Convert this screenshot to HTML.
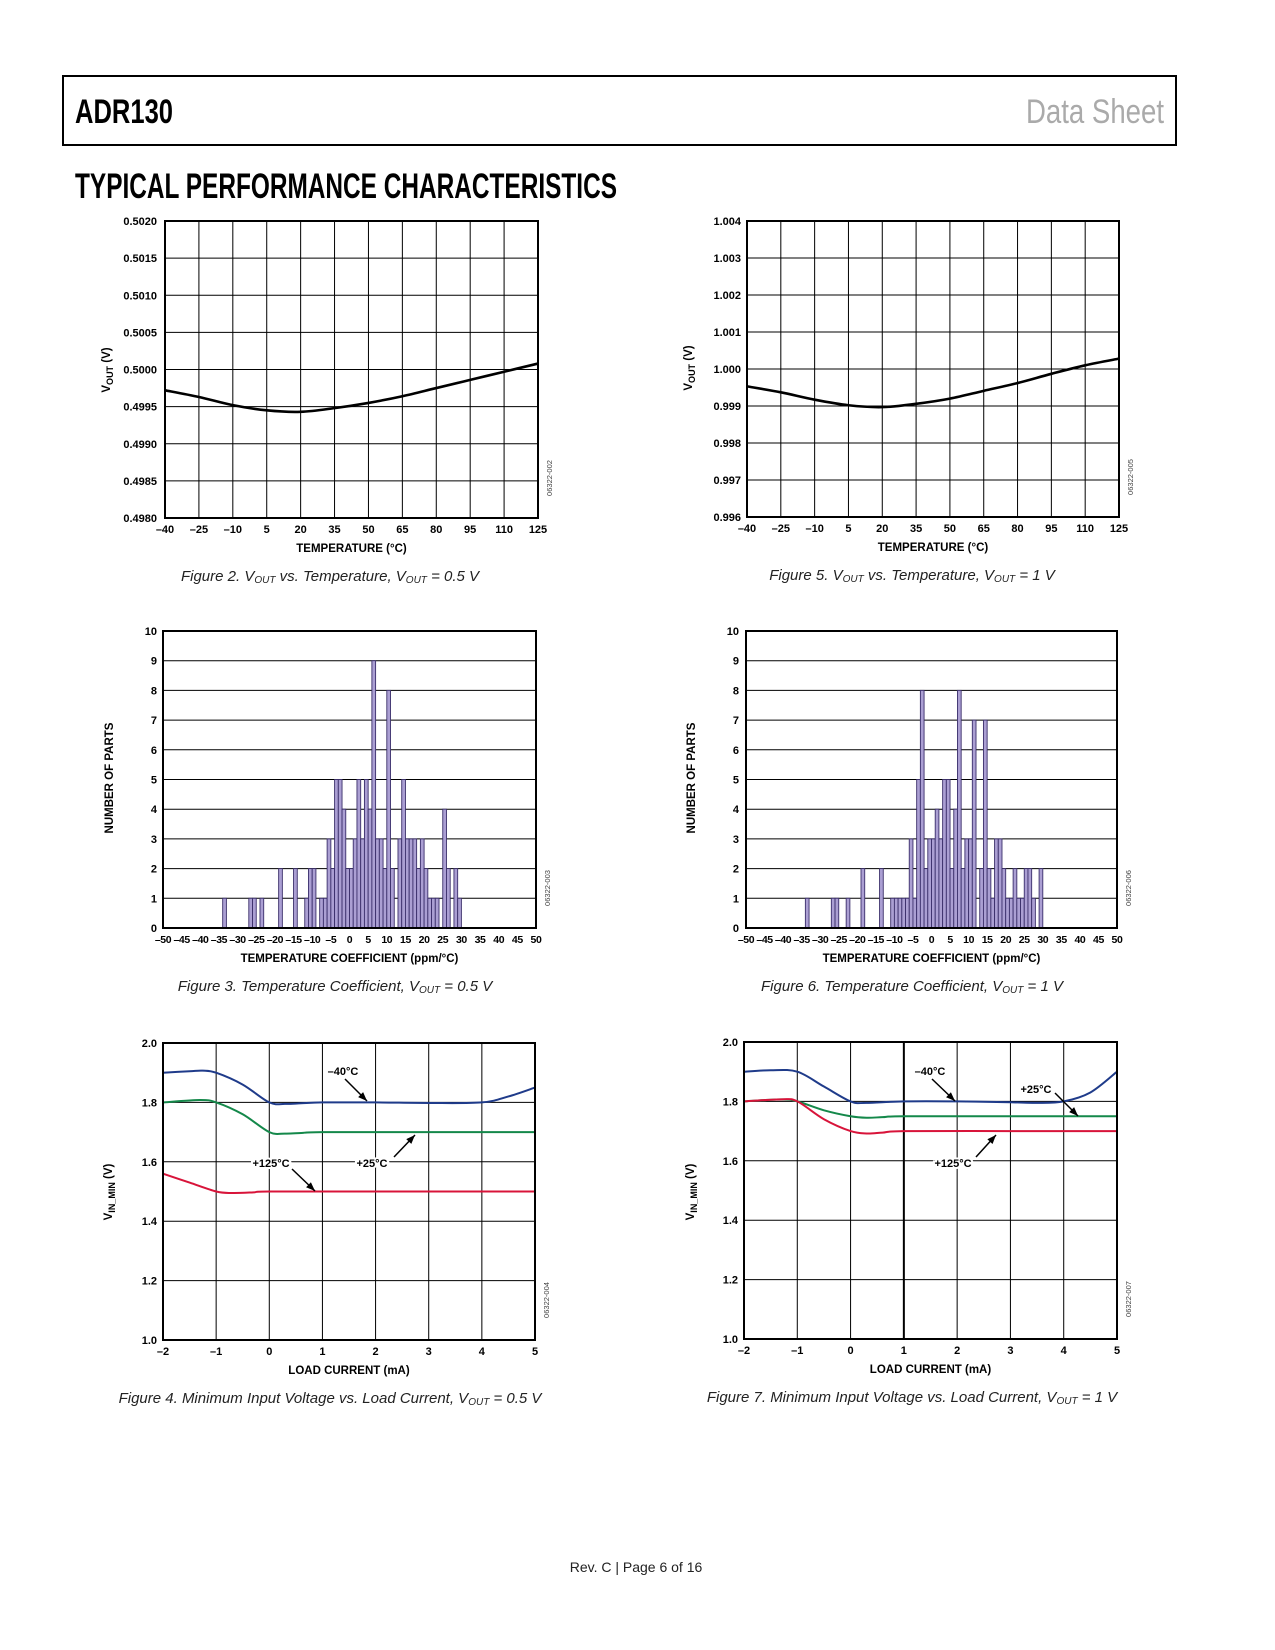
<!DOCTYPE html>
<html><head><meta charset="utf-8"><style>
html,body{margin:0;padding:0;background:#fff;}
svg{display:block;}
text{font-family:"Liberation Sans",sans-serif;}
.tk{font-size:11px;font-weight:bold;fill:#000;}
.ttl{font-size:11.5px;font-weight:bold;fill:#000;}
.cap{font-size:15px;font-style:italic;fill:#222;}
.code{font-size:7.5px;fill:#444;}
</style></head><body>
<svg id="page" width="1275" height="1650" viewBox="0 0 1275 1650" xmlns="http://www.w3.org/2000/svg">
<rect x="63" y="76" width="1113" height="69" fill="none" stroke="#000" stroke-width="2"/>
<text x="75" y="123" font-size="34" font-weight="bold" textLength="98" lengthAdjust="spacingAndGlyphs" style="font-family:'Liberation Sans Narrow','Liberation Sans',sans-serif">ADR130</text>
<text x="1164" y="123" text-anchor="end" font-size="34" fill="#aaa" textLength="138" lengthAdjust="spacingAndGlyphs" style="font-family:'Liberation Sans Narrow','Liberation Sans',sans-serif">Data Sheet</text>
<text x="75" y="198" font-size="35" font-weight="bold" textLength="542" lengthAdjust="spacingAndGlyphs" style="font-family:'Liberation Sans Narrow','Liberation Sans',sans-serif">TYPICAL PERFORMANCE CHARACTERISTICS</text>
<text x="636" y="1572" text-anchor="middle" font-size="14" fill="#222">Rev. C | Page 6 of 16</text>
<g id="charts"></g>
</svg>
<script>
// Figure 2 data
const f2Temps = [-40,-25,-10,5,20,35,50,65,80,95,110,125];
const f2Vout = [0.49972,0.49963,0.49952,0.49945,0.49943,0.49948,0.49955,0.49964,0.49975,0.49986,0.49997,0.50008];
const f2YTicks = ["0.4980","0.4985","0.4990","0.4995","0.5000","0.5005","0.5010","0.5015","0.5020"];
// Figure 5 data
const f5Temps = [-40,-25,-10,5,20,35,50,65,80,95,110,125];
const f5Vout = [0.99953,0.99937,0.99917,0.99902,0.99897,0.99906,0.99920,0.99941,0.99962,0.99987,1.00010,1.00028];
const f5YTicks = ["0.996","0.997","0.998","0.999","1.000","1.001","1.002","1.003","1.004"];
const tempTicks = ["–40","–25","–10","5","20","35","50","65","80","95","110","125"];
// Figure 3 histogram (bin start value, count)
const f3Bins = [-34,-27,-26,-24,-19,-15,-12,-11,-10,-8,-7,-6,-5,-4,-3,-2,-1,0,1,2,3,4,5,6,7,8,9,10,11,13,14,15,16,17,18,19,20,21,22,23,25,26,28,29];
const f3Counts = [1,1,1,1,2,2,1,2,2,1,1,3,2,5,5,4,2,2,3,5,3,5,4,9,3,3,2,8,2,3,5,3,3,3,2,3,2,1,1,1,4,2,2,1];
// Figure 6 histogram
const f6Bins = [-34,-27,-26,-23,-19,-14,-11,-10,-9,-8,-7,-6,-5,-4,-3,-2,-1,0,1,2,3,4,5,6,7,8,9,10,11,13,14,15,16,17,18,19,20,21,22,23,24,25,26,27,29];
const f6Counts = [1,1,1,1,2,2,1,1,1,1,1,3,1,5,8,2,3,3,4,3,5,5,2,4,8,2,3,3,7,2,7,2,1,3,3,2,1,1,2,1,1,2,2,1,2];
const tcTicks = ["–50","–45","–40","–35","–30","–25","–20","–15","–10","–5","0","5","10","15","20","25","30","35","40","45","50"];
const countTicks = ["0","1","2","3","4","5","6","7","8","9","10"];
// Figure 4 data
const f4BlueX = [-2,-1.5,-1.25,-1,-0.5,0,0.3,0.6,1,2,3,4,4.5,5];
const f4BlueY = [1.90,1.905,1.907,1.90,1.86,1.80,1.795,1.797,1.80,1.80,1.798,1.80,1.82,1.85];
const f4GreenX = [-2,-1.3,-1,-0.5,0,0.3,0.6,1,3,5];
const f4GreenY = [1.80,1.808,1.80,1.76,1.70,1.695,1.697,1.70,1.70,1.70];
const f4RedX = [-2,-1.5,-1,-0.7,-0.3,0,2,5];
const f4RedY = [1.56,1.53,1.50,1.495,1.497,1.50,1.50,1.50];
// Figure 7 data
const f7BlueX = [-2,-1.5,-1,-0.5,0,0.3,1,2,3,3.5,4,4.5,5];
const f7BlueY = [1.90,1.905,1.90,1.85,1.80,1.795,1.80,1.80,1.797,1.795,1.80,1.83,1.90];
const f7GreenX = [-2,-1.3,-1,-0.5,0,0.3,0.6,1,3,5];
const f7GreenY = [1.80,1.807,1.80,1.77,1.75,1.745,1.747,1.75,1.75,1.75];
const f7RedX = [-2,-1.3,-1,-0.5,0,0.3,0.6,1,3,5];
const f7RedY = [1.80,1.807,1.80,1.74,1.70,1.692,1.695,1.70,1.70,1.70];
const loadTicks = ["–2","–1","0","1","2","3","4","5"];
const vinTicks = ["1.0","1.2","1.4","1.6","1.8","2.0"];

const NS="http://www.w3.org/2000/svg";
const root=document.getElementById('charts');
function mk(tag,attrs,parent,txt){const e=document.createElementNS(NS,tag);for(const k in attrs)e.setAttribute(k,attrs[k]);if(txt!==undefined)e.textContent=txt;(parent||root).appendChild(e);return e;}
function smooth(pts){let d='M'+pts[0][0].toFixed(2)+','+pts[0][1].toFixed(2);for(let i=0;i<pts.length-1;i++){const p0=pts[i-1]||pts[i],p1=pts[i],p2=pts[i+1],p3=pts[i+2]||p2;const c1=[p1[0]+(p2[0]-p0[0])/6,p1[1]+(p2[1]-p0[1])/6],c2=[p2[0]-(p3[0]-p1[0])/6,p2[1]-(p3[1]-p1[1])/6];d+=' C'+c1[0].toFixed(2)+','+c1[1].toFixed(2)+' '+c2[0].toFixed(2)+','+c2[1].toFixed(2)+' '+p2[0].toFixed(2)+','+p2[1].toFixed(2);}return d;}

function frame(c){
  const g=mk('g',{});
  
  
  c.g=g;
  c.sx=v=>c.L+(v-c.x0)/(c.x1-c.x0)*(c.R-c.L);
  c.sy=v=>c.B-(v-c.y0)/(c.y1-c.y0)*(c.B-c.T);
  if(c.vgrid){c.xTicks.forEach((t,i)=>{const x=c.L+i*(c.R-c.L)/(c.xTicks.length-1);
    const ln=mk('line',{x1:x,y1:c.T,x2:x,y2:c.B,stroke:'#000','stroke-width':(c.thickX===i?2:1)},g);
    
    });}
  c.yTicks.forEach((t,i)=>{const y=c.B-i*(c.B-c.T)/(c.yTicks.length-1);
    const ln=mk('line',{x1:c.L,y1:y,x2:c.R,y2:y,stroke:'#000','stroke-width':1},g);
    
    
    const tx=mk('text',{x:c.yLabX,y:y+4,'text-anchor':'end','class':'tk'},g,t);
    
    });
  c.xTicks.forEach((t,i)=>{const x=c.L+i*(c.R-c.L)/(c.xTicks.length-1);
    const tx=mk('text',{x:x,y:c.B+15,'text-anchor':'middle','class':'tk',style:c.xTickStyle||''},g,t);
    
    });
  const xt=mk('text',{x:(c.L+c.R)/2,y:c.B+34,'text-anchor':'middle','class':'ttl'},g,c.xTitle);
  
  
  const yt=mk('text',{x:c.yTitleX,y:c.yTitleY,'text-anchor':'middle','class':'ttl',transform:'rotate(-90 '+c.yTitleX+' '+c.yTitleY+')'},g);
  
  
  if(c.yTitleSub){mk('tspan',{},yt,'V');mk('tspan',{'font-size':'9px',dy:'3'},yt,c.yTitleSub);mk('tspan',{dy:'-3'},yt,' (V)');}else yt.textContent=c.yTitle;
  const cd=mk('text',{x:c.R+14,y:c.B-40,'text-anchor':'middle','class':'code',transform:'rotate(-90 '+(c.R+14)+' '+(c.B-40)+')'},g,c.code);
  
  
  const cap=mk('text',{x:c.capX,y:c.B+63,'text-anchor':'middle','class':'cap'},g);
  
  
  c.cap.forEach(seg=>{
    if(seg==='_OUT'){mk('tspan',{'font-size':'10px',dy:'2'},cap,'OUT');mk('tspan',{dy:'-2'},cap,'\u200b');}
    else mk('tspan',{},cap,seg);
  });
  return g;
}
function border(c){const r=mk('rect',{x:c.L,y:c.T,width:c.R-c.L,height:c.B-c.T,fill:'none',stroke:'#000','stroke-width':2},c.g);
  
  }
function line(c,xs,ys,color,w,name){const p=mk('path',{d:smooth(xs.map((x,i)=>[c.sx(x),c.sy(ys[i])])),fill:'none',stroke:color,'stroke-width':w,'stroke-linejoin':'round'},c.g);
  
  }
function hist(c,bins,counts){bins.forEach((b,i)=>{const x=c.sx(b),w=c.sx(b+1)-x,y=c.sy(counts[i]);
  const r=mk('rect',{x:x,y:y,width:w,height:c.B-y,fill:'#ab9fd3',stroke:'#3b2f6b','stroke-width':0.9},c.g);
  
  });}
function label(c,txt,tx,ty,ax1,ay1,ax2,ay2){
  const t=mk('text',{x:tx,y:ty+4,'text-anchor':'middle','class':'tk',style:'paint-order:stroke;stroke:#fff;stroke-width:4px'},c.g,txt);
  
  
  const a=mk('line',{x1:ax1,y1:ay1,x2:ax2,y2:ay2,stroke:'#000','stroke-width':1.5},c.g);
  
  
  const ang=Math.atan2(ay2-ay1,ax2-ax1),L=9,W=3.5;
  const bx=ax2-L*Math.cos(ang),by=ay2-L*Math.sin(ang);
  const h=mk('polygon',{points:ax2+','+ay2+' '+(bx-W*Math.sin(ang))+','+(by+W*Math.cos(ang))+' '+(bx+W*Math.sin(ang))+','+(by-W*Math.cos(ang)),fill:'#000'},c.g);
  
  
}

const c2={name:'figure-2-vout-vs-temp',L:165,R:538,T:221,B:518,x0:-40,x1:125,y0:0.498,y1:0.502,xTicks:tempTicks,yTicks:f2YTicks,vgrid:true,yLabX:157,xTitle:'TEMPERATURE (°C)',yTitleSub:'OUT',yTitleX:110,yTitleY:370,code:'06322-002',capX:330,cap:['Figure 2. V','_OUT',' vs. Temperature, V','_OUT',' = 0.5 V']};
frame(c2);line(c2,f2Temps,f2Vout,'#000',2.6,'vout-curve');border(c2);
const c5={name:'figure-5-vout-vs-temp',L:747,R:1119,T:221,B:517,x0:-40,x1:125,y0:0.996,y1:1.004,xTicks:tempTicks,yTicks:f5YTicks,vgrid:true,yLabX:741,xTitle:'TEMPERATURE (°C)',yTitleSub:'OUT',yTitleX:692,yTitleY:368,code:'06322-005',capX:912,cap:['Figure 5. V','_OUT',' vs. Temperature, V','_OUT',' = 1 V']};
frame(c5);line(c5,f5Temps,f5Vout,'#000',2.6,'vout-curve');border(c5);
const c3={name:'figure-3-tempco-histogram',L:163,R:536,T:631,B:928,x0:-50,x1:50,y0:0,y1:10,xTicks:tcTicks,yTicks:countTicks,vgrid:false,yLabX:157,xTitle:'TEMPERATURE COEFFICIENT (ppm/°C)',yTitle:'NUMBER OF PARTS',yTitleX:113,yTitleY:778,code:'06322-003',capX:335,cap:['Figure 3. Temperature Coefficient, V','_OUT',' = 0.5 V'],xTickStyle:'font-size:10.5px;letter-spacing:-0.4px'};
frame(c3);hist(c3,f3Bins,f3Counts);border(c3);
const c6={name:'figure-6-tempco-histogram',L:746,R:1117,T:631,B:928,x0:-50,x1:50,y0:0,y1:10,xTicks:tcTicks,yTicks:countTicks,vgrid:false,yLabX:739,xTitle:'TEMPERATURE COEFFICIENT (ppm/°C)',yTitle:'NUMBER OF PARTS',yTitleX:695,yTitleY:778,code:'06322-006',capX:912,cap:['Figure 6. Temperature Coefficient, V','_OUT',' = 1 V'],xTickStyle:'font-size:10.5px;letter-spacing:-0.4px'};
frame(c6);hist(c6,f6Bins,f6Counts);border(c6);
const c4={name:'figure-4-vin-min-vs-load',L:163,R:535,T:1043,B:1340,x0:-2,x1:5,y0:1.0,y1:2.0,xTicks:loadTicks,yTicks:vinTicks,vgrid:true,yLabX:157,xTitle:'LOAD CURRENT (mA)',yTitleSub:'IN_MIN',yTitleX:112,yTitleY:1192,code:'06322-004',capX:330,cap:['Figure 4. Minimum Input Voltage vs. Load Current, V','_OUT',' = 0.5 V']};
frame(c4);
line(c4,f4BlueX,f4BlueY,'#1f3b8a',2,'minus-40c-curve');
line(c4,f4GreenX,f4GreenY,'#14884a',2,'plus-25c-curve');
line(c4,f4RedX,f4RedY,'#d8143a',2,'plus-125c-curve');
label(c4,'–40°C',343,1071,345,1079,367,1101);
label(c4,'+125°C',271,1163,292,1169,315,1191);
label(c4,'+25°C',372,1163,394,1157,415,1135);
border(c4);
const c7={name:'figure-7-vin-min-vs-load',L:744,R:1117,T:1042,B:1339,x0:-2,x1:5,y0:1.0,y1:2.0,xTicks:loadTicks,yTicks:vinTicks,vgrid:true,thickX:3,yLabX:738,xTitle:'LOAD CURRENT (mA)',yTitleSub:'IN_MIN',yTitleX:694,yTitleY:1192,code:'06322-007',capX:912,cap:['Figure 7. Minimum Input Voltage vs. Load Current, V','_OUT',' = 1 V']};
frame(c7);
line(c7,f7BlueX,f7BlueY,'#1f3b8a',2,'minus-40c-curve');
line(c7,f7GreenX,f7GreenY,'#14884a',2,'plus-25c-curve');
line(c7,f7RedX,f7RedY,'#d8143a',2,'plus-125c-curve');
label(c7,'–40°C',930,1071,932,1079,955,1101);
label(c7,'+25°C',1036,1089,1055,1093,1078,1116);
label(c7,'+125°C',953,1163,976,1157,996,1135);
border(c7);
</script>
</body></html>
